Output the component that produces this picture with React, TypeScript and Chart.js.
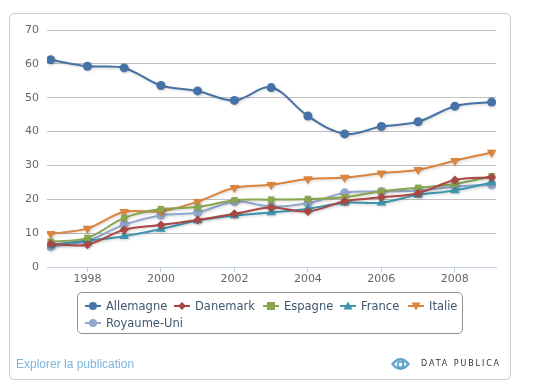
import React, { useEffect, useRef } from "react";
import { Chart, registerables } from "chart.js";

Chart.register(...registerables);

const years = [1997, 1998, 1999, 2000, 2001, 2002, 2003, 2004, 2005, 2006, 2007, 2008, 2009];
const xTicks = [1998, 2000, 2002, 2004, 2006, 2008];
const allemagne = [61.2, 59.3, 58.8, 53.6, 52.0, 49.2, 53.0, 44.6, 39.3, 41.5, 42.9, 47.5, 48.7];
const danemark = [6.8, 6.6, 11.0, 12.4, 13.9, 15.7, 17.6, 16.4, 19.4, 20.6, 21.8, 25.7, 26.5];
const espagne = [7.5, 8.6, 14.5, 17.1, 17.7, 19.7, 19.9, 20.1, 20.6, 22.4, 23.4, 24.5, 26.8];
const france = [6.5, 7.8, 9.1, 11.2, 13.7, 15.2, 16.1, 17.2, 19.0, 19.0, 21.3, 22.6, 25.0];
const italie = [9.8, 11.4, 16.3, 16.4, 19.3, 23.4, 24.3, 26.0, 26.4, 27.7, 28.7, 31.4, 33.8];
const royaumeUni = [6.0, 7.7, 12.5, 15.3, 16.1, 19.3, 17.9, 18.8, 21.9, 22.3, 22.6, 23.7, 24.3];

const seriesNames = ["Allemagne", "Danemark", "Espagne", "France", "Italie", "Royaume-Uni"];
const seriesData = [allemagne, danemark, espagne, france, italie, royaumeUni];
const seriesColors = ["#4572A7", "#AA4643", "#89A54E", "#3D96AE", "#DB843D", "#92A8CD"];
const seriesMarkers = ["circle", "rectRot", "rect", "triangle", "triangle", "circle"];
const seriesRotation = [0, 0, 0, 0, 180, 0];
const seriesRadius = [4.5, 4.5, 4.5, 5.5, 5.5, 4.5];

const FONT = "'DejaVu Sans', Verdana, sans-serif";

const shadowPlugin = {
  id: "lineShadow",
  beforeDatasetDraw(chart: any) {
    const ctx = chart.ctx;
    ctx.save();
    ctx.shadowColor = "rgba(0,0,0,0.18)";
    ctx.shadowBlur = 3;
    ctx.shadowOffsetX = 1;
    ctx.shadowOffsetY = 1;
  },
  afterDatasetDraw(chart: any) {
    chart.ctx.restore();
  },
};

function MarkerIcon({ color, marker, rot }: { color: string; marker: string; rot: number }) {
  let shape: any = null;
  if (marker === "circle") shape = <circle cx={8} cy={6} r={4} fill={color} />;
  else if (marker === "rect") shape = <rect x={4} y={2} width={8} height={8} fill={color} />;
  else if (marker === "rectRot") shape = <polygon points="8,2 12,6 8,10 4,6" fill={color} />;
  else if (marker === "triangle")
    shape = (
      <polygon
        points="8,1.5 12.5,9.5 3.5,9.5"
        fill={color}
        transform={rot ? "rotate(180 8 6)" : undefined}
      />
    );
  return (
    <svg width={16} height={12} style={{ display: "block" }}>
      <line x1={0} y1={6} x2={16} y2={6} stroke={color} strokeWidth={2} />
      {shape}
    </svg>
  );
}

// legend item positions (relative to legend box)
const legendPos = [
  [7, 0], [96, 0], [185, 0], [262, 0], [330, 0], [7, 1],
];

export default function App() {
  const canvasRef = useRef<HTMLCanvasElement | null>(null);

  useEffect(() => {
    if (!canvasRef.current) return;
    const chart = new Chart(canvasRef.current, {
      type: "line",
      data: {
        datasets: seriesNames.map((name, i) => ({
          label: name,
          data: years.map((y, j) => ({ x: y, y: seriesData[i][j] })),
          borderColor: seriesColors[i],
          backgroundColor: seriesColors[i],
          borderWidth: 2,
          tension: 0.35,
          pointStyle: seriesMarkers[i] as any,
          pointRotation: seriesRotation[i],
          pointRadius: seriesRadius[i],
          pointBorderWidth: 0,
          pointBackgroundColor: seriesColors[i],
          fill: false,
        })),
      },
      options: {
        animation: false,
        responsive: false,
        layout: { padding: { left: 0, right: 36, top: 22, bottom: 95 } },
        plugins: { legend: { display: false }, tooltip: { enabled: false } },
        scales: {
          x: {
            type: "linear",
            min: 1996.9,
            max: 2009.12,
            afterBuildTicks: (axis: any) => {
              axis.ticks = xTicks.map((v) => ({ value: v }));
            },
            afterFit: (axis: any) => {
              axis.height = 20;
            },
            grid: { display: true, drawOnChartArea: false, drawTicks: true, tickLength: 5, color: "#C0D0E0" },
            border: { display: true, color: "#C0D0E0", width: 1 },
            ticks: {
              color: "#666666",
              font: { family: FONT, size: 11 },
              padding: 1,
              maxRotation: 0,
              autoSkip: false,
              callback: (v: any) => String(v),
            },
          },
          y: {
            min: 0,
            max: 70,
            afterFit: (axis: any) => {
              axis.width = 39;
            },
            grid: { color: "#C0C0C0", drawTicks: false, lineWidth: 1 },
            border: { display: false },
            ticks: {
              stepSize: 10,
              color: "#666666",
              font: { family: FONT, size: 11 },
              padding: 8,
            },
          },
        },
      },
      plugins: [shadowPlugin],
    });
    return () => chart.destroy();
  }, []);

  return (
    <div style={{ position: "relative", width: 524, height: 374 }}>
      <div
        style={{
          position: "absolute",
          left: 1,
          top: 5,
          width: 502,
          height: 367,
          border: "1px solid #CCCCCC",
          borderRadius: 5,
          boxSizing: "border-box",
        }}
      />
      <canvas
        ref={canvasRef}
        width={524}
        height={374}
        style={{ position: "absolute", left: 0, top: 0, width: 524, height: 374 }}
      />
      <div
        style={{
          position: "absolute",
          left: 69,
          top: 284,
          width: 386,
          height: 42,
          border: "1px solid #909090",
          borderRadius: 5,
          boxSizing: "border-box",
          fontFamily: FONT,
          fontSize: 11.5,
          color: "#3E576F",
        }}
      >
        {seriesNames.map((name, i) => (
          <div
            key={name}
            style={{
              position: "absolute",
              left: legendPos[i][0],
              top: 6 + legendPos[i][1] * 16.5,
              display: "flex",
              alignItems: "center",
              whiteSpace: "nowrap",
              lineHeight: "14px",
            }}
          >
            <MarkerIcon color={seriesColors[i]} marker={seriesMarkers[i]} rot={seriesRotation[i]} />
            <span style={{ marginLeft: 5 }}>{name}</span>
          </div>
        ))}
      </div>
      <div
        style={{
          position: "absolute",
          left: 8,
          top: 349,
          fontFamily: "'Liberation Sans', Arial, sans-serif",
          fontSize: 12,
          color: "#7EB4DA",
          lineHeight: "14px",
        }}
      >
        Explorer la publication
      </div>
      <div
        style={{
          position: "absolute",
          left: 383,
          top: 349,
          display: "flex",
          alignItems: "center",
        }}
      >
        <svg width={19} height={14} style={{ display: "block" }}>
          <path d="M1.5,7 Q9.5,-2.5 17.5,7 Q9.5,16.5 1.5,7 Z" fill="none" stroke="#5FA3CB" strokeWidth={2.4} />
          <circle cx={9.5} cy={7.5} r={2.8} fill="none" stroke="#5FA3CB" strokeWidth={1.8} />
          <rect x={11.4} y={2.5} width={1.8} height={8} fill="#5FA3CB" />
        </svg>
        <span
          style={{
            marginLeft: 11,
            fontFamily: "'DejaVu Sans', sans-serif",
            fontSize: 8,
            letterSpacing: 1.9,
            color: "#333333",
            lineHeight: "14px",
          }}
        >
          DATA PUBLICA
        </span>
      </div>
    </div>
  );
}
